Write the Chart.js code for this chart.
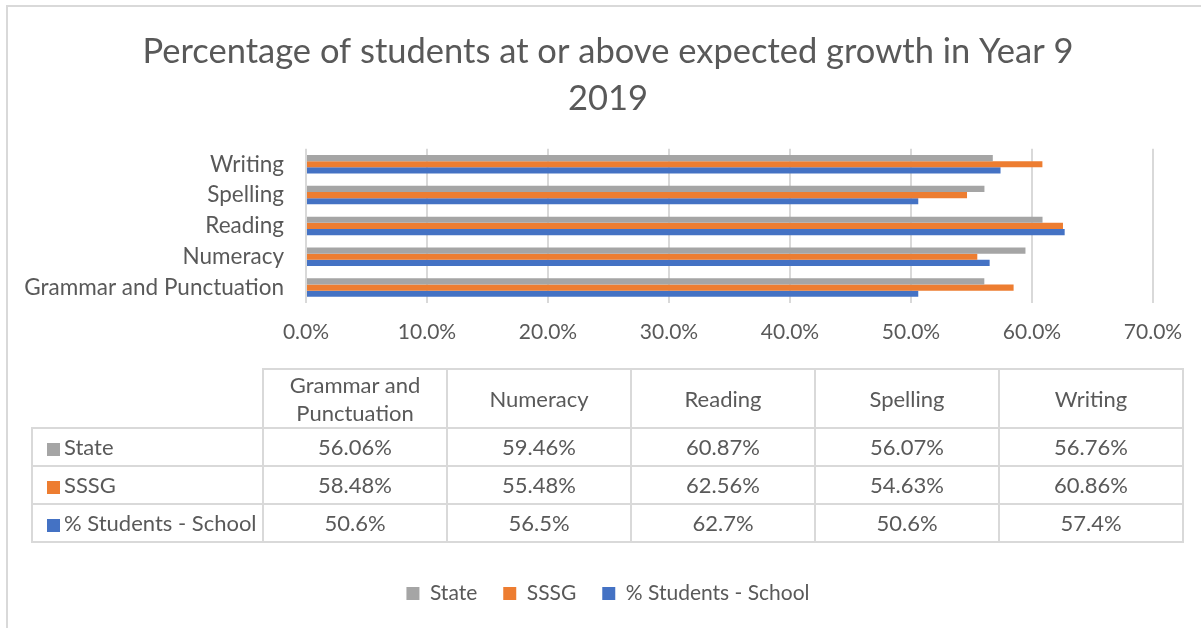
<!DOCTYPE html>
<html lang="en">
<head>
<meta charset="UTF-8">
<title>Year 9 Expected Growth 2019</title>
<script src="https://cdn.jsdelivr.net/npm/chart.js"></script>
<style>
  body { margin: 0; background: #fff; font-family: Lato, sans-serif; }
  .wrap { position: relative; width: 1201px; height: 628px; overflow: hidden; }
  .frame {
    position: absolute; left: 6px; top: 5px; width: 1300px; height: 700px;
    border-left: 2px solid #d9d9d9; border-top: 2px solid #d9d9d9;
  }
  #growthChart { position: absolute; left: 0; top: 0; }
  #dataTable {
    position: absolute; left: 31px; top: 368px;
    border-collapse: collapse; table-layout: fixed;
    color: #595959; font-size: 22px; line-height: 1.25;
  }
  #dataTable td { border: 2px solid #d9d9d9; text-align: center; padding: 0 4px; }
  #dataTable tr.head td { height: 57px; }
  #dataTable tr.row td { height: 36px; }
  #dataTable td.corner { border-top: none; border-left: none; }
  #dataTable td.name { text-align: left; padding-left: 14px; white-space: nowrap; }
  .swatch { display: inline-block; width: 13px; height: 13px; margin-right: 4px; vertical-align: -1px; }
</style>
</head>
<body>
<div class="wrap">
  <div class="frame"></div>
  <canvas id="growthChart" width="1201" height="628"></canvas>
  <table id="dataTable">
    <colgroup><col style="width:231px"><col style="width:184px"><col style="width:184px"><col style="width:184px"><col style="width:184px"><col style="width:184px"></colgroup>
    <tbody></tbody>
  </table>
</div>
<script>
const titleLines = ['Percentage of students at or above expected growth in Year 9', '2019'];
const categories = ['Grammar and Punctuation', 'Numeracy', 'Reading', 'Spelling', 'Writing'];
const stateValues = [56.06, 59.46, 60.87, 56.07, 56.76];
const sssgValues = [58.48, 55.48, 62.56, 54.63, 60.86];
const schoolValues = [50.6, 56.5, 62.7, 50.6, 57.4];
const seriesNames = ['State', 'SSSG', '% Students - School'];
const seriesColors = ['#a5a5a5', '#ed7d31', '#4472c4'];
const seriesDecimals = [2, 2, 1];
const axisMin = 0, axisMax = 70, axisStep = 10;

const textColor = '#595959';
const gridColor = '#d9d9d9';
const allValues = [stateValues, sssgValues, schoolValues];

// data table under the axis
const tbody = document.querySelector('#dataTable tbody');
let head = '<tr class="head"><td class="corner"></td>';
categories.forEach(c => {
  head += `<td>${c.replace('Grammar and ', 'Grammar and<br>')}</td>`;
});
head += '</tr>';
tbody.innerHTML = head;
seriesNames.forEach((name, i) => {
  const tr = document.createElement('tr');
  tr.className = 'row';
  let html = `<td class="name"><span class="swatch" style="background:${seriesColors[i]}"></span>${name}</td>`;
  allValues[i].forEach(v => { html += `<td>${v.toFixed(seriesDecimals[i])}%</td>`; });
  tr.innerHTML = html;
  tbody.appendChild(tr);
});

const font = 'Lato, sans-serif';

new Chart(document.getElementById('growthChart'), {
  type: 'bar',
  data: {
    labels: categories,
    datasets: seriesNames.map((name, i) => ({
      label: name,
      data: allValues[i],
      backgroundColor: seriesColors[i],
      borderWidth: 0,
      categoryPercentage: 0.6,
      barPercentage: 1.0
    }))
  },
  options: {
    indexAxis: 'y',
    responsive: false,
    animation: false,
    layout: { padding: { left: 20, right: 5, top: 0, bottom: 14 } },
    plugins: {
      title: {
        display: true,
        text: titleLines,
        color: textColor,
        font: { family: font, size: 34.5, weight: 'normal', lineHeight: 1.36 },
        padding: { top: 28, bottom: 27 }
      },
      legend: {
        position: 'bottom',
        labels: {
          color: textColor,
          font: { family: font, size: 21 },
          boxWidth: 13,
          boxHeight: 13,
          padding: 26
        }
      },
      tooltip: { enabled: false }
    },
    scales: {
      x: {
        min: axisMin,
        max: axisMax,
        ticks: {
          stepSize: axisStep,
          color: textColor,
          font: { family: font, size: 21 },
          padding: 17,
          callback: v => v.toFixed(1) + '%'
        },
        grid: { color: gridColor, lineWidth: 2, drawTicks: false },
        border: { display: false },
        afterFit: scale => {
          scale.height = 254;
          scale.paddingRight = 48;
        }
      },
      y: {
        reverse: true,
        ticks: {
          color: textColor,
          font: { family: font, size: 22.5 },
          padding: 22
        },
        grid: { display: false, drawTicks: false },
        border: { display: false },
        afterFit: scale => { scale.width = 286; }
      }
    }
  }
});
</script>
</body>
</html>
